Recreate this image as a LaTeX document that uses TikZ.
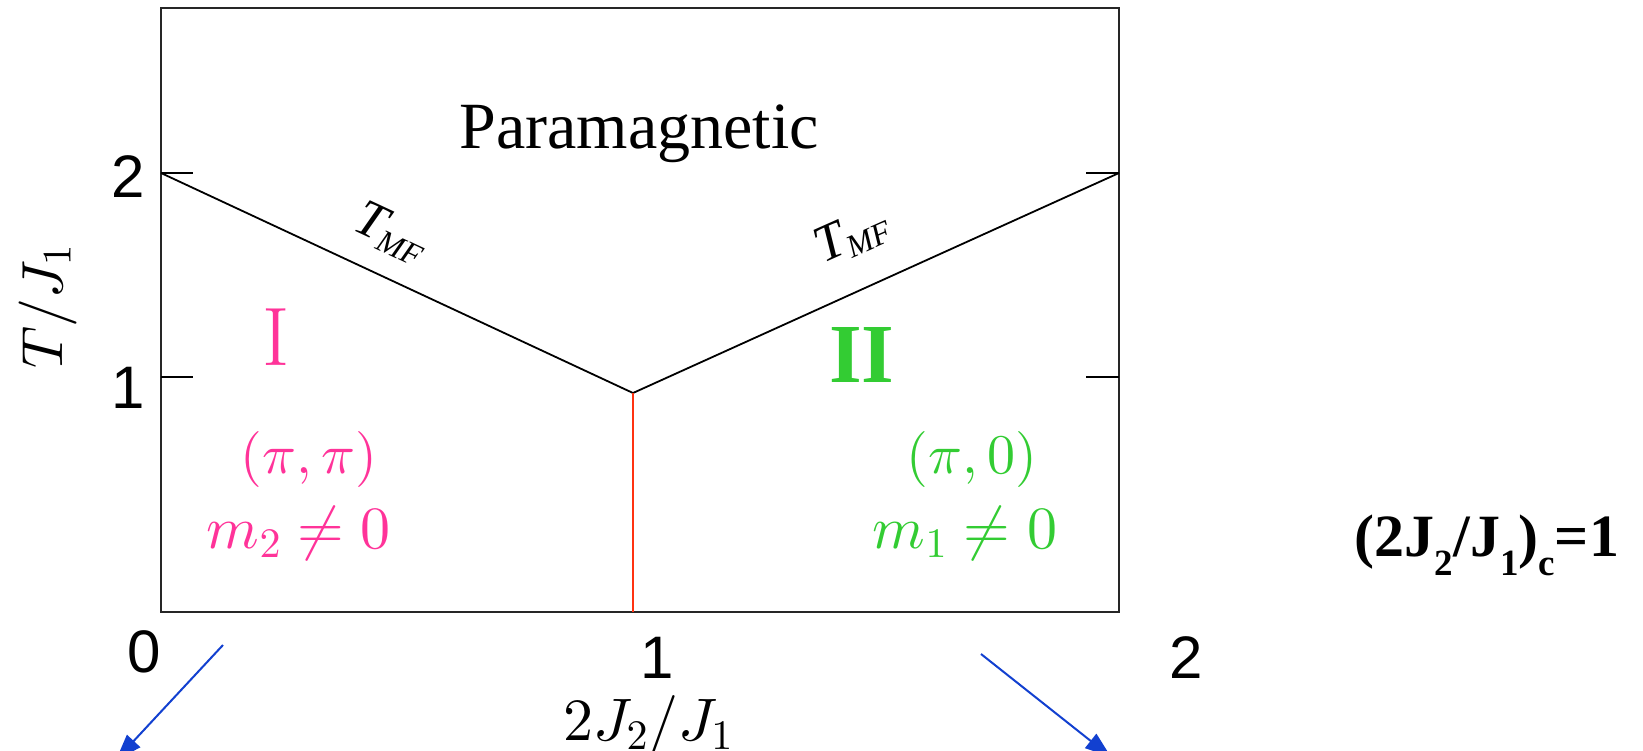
\documentclass[tikz,border=0pt]{standalone}
\usepackage{fix-cm}
\usepackage{fontspec}
\newfontfamily\sansf{Liberation Sans}
\newfontfamily\timesf{Liberation Serif}
\DeclareFontShape{OT1}{cmr}{m}{n}{<->cmr10}{}
\DeclareFontShape{OML}{cmm}{m}{it}{<->cmmi10}{}
\DeclareFontShape{OMS}{cmsy}{m}{n}{<->cmsy10}{}
\DeclareFontShape{OMX}{cmex}{m}{n}{<->cmex10}{}
\usetikzlibrary{arrows.meta}
\definecolor{pinkI}{HTML}{FF3399}
\definecolor{greenII}{HTML}{33CC33}
\definecolor{redline}{HTML}{FF3311}
\definecolor{arrowblue}{HTML}{1240D0}
\newcommand\bsub[1]{\raisebox{-0.32em}{\fontsize{37}{37}\selectfont #1}}
\newcommand\tmfsub{{\timesf\itshape T}\raisebox{-0.14em}{\timesf\itshape\fontsize{32}{32}\selectfont MF}}
\begin{document}
\begin{tikzpicture}[x=1pt,y=-1pt,
  frame/.style={line width=2.4pt,black!85},
  phase/.style={line width=1.8pt},
  tickmark/.style={line width=1.8pt},
  num/.style={font=\sansf\fontsize{60}{60}\selectfont, inner sep=0pt, anchor=base},
  mathlbl/.style={font=\fontsize{56}{56}\selectfont, inner sep=0pt, anchor=base},
  bigmath/.style={font=\fontsize{60}{60}\selectfont, inner sep=0pt, anchor=base},
  tmf/.style={font=\fontsize{52}{52}\selectfont, inner sep=0pt},
  arr/.style={draw=arrowblue, line width=2pt, -{Triangle[length=26pt,width=18pt]}, arrowblue}
]
\useasboundingbox (0,0) rectangle (1643,750);
\clip (0,0) rectangle (1643,750);
% frame
\draw[frame] (161,8) rectangle (1119,612);
% key coordinates
\coordinate (L2) at (161,173);
\coordinate (R2) at (1119,173);
\coordinate (V) at (633,393);
\coordinate (B) at (633,612);
% ticks
\draw[tickmark] (161,173) -- (193,173);
\draw[tickmark] (161,377) -- (193,377);
\draw[tickmark] (1086,173) -- (1119,173);
\draw[tickmark] (1086,377) -- (1119,377);
% phase boundaries
\draw[phase] (L2) -- (V) -- (R2);
\draw[phase, draw=redline] (V) -- (B);
% tick labels
\node[num] (y2) at (128,197) {2};
\node[num] (y1) at (128,408) {1};
\node[num] (x0) at (144,672) {0};
\node[num] (x1) at (657,678) {1};
\node[num] (x2) at (1186,678) {2};
% axis labels
\node[font=\fontsize{58}{58}\selectfont, inner sep=0pt, anchor=base, rotate=90] (ylab) at (62,307) {$T/J_1$};
\node[bigmath] (xlab) at (648,740) {$2J_2/J_1$};
% region labels
\node[font=\timesf\fontsize{66}{66}\selectfont, inner sep=0pt, anchor=base] (para) at (639,148) {Paramagnetic};
\node[tmf, rotate=-25] (tmfL) at (391,233) {\tmfsub};
\node[tmf, rotate=24] (tmfR) at (852,236) {\tmfsub};
\node[font=\fontsize{83}{83}\selectfont, inner sep=0pt, anchor=base, text=pinkI] (I) at (276,365) {$\mathrm{I}$};
\node[font=\timesf\bfseries\fontsize{84}{84}\selectfont, inner sep=0pt, anchor=base, text=greenII] (II) at (862,382) {II};
\node[mathlbl, text=pinkI] (kI) at (309,473) {$(\pi,\pi)$};
\node[bigmath, text=pinkI] (mI) at (299,548) {$m_2\neq 0$};
\node[mathlbl, text=greenII] (kII) at (972,473) {$(\pi,0)$};
\node[bigmath, text=greenII] (mII) at (965,548) {$m_1\neq 0$};
\node[font=\timesf\bfseries\fontsize{60}{60}\selectfont, inner sep=0pt, anchor=base] (crit) at (1487,556) {(2J\bsub{2}/J\bsub{1})\bsub{c}=1};
% arrows
\coordinate (a1s) at (223,645);
\coordinate (a1e) at (116,760);
\coordinate (a2s) at (981,654);
\coordinate (a2e) at (1111,757);
\draw[arr] (a1s) -- (a1e);
\draw[arr] (a2s) -- (a2e);
\end{tikzpicture}
\end{document}
